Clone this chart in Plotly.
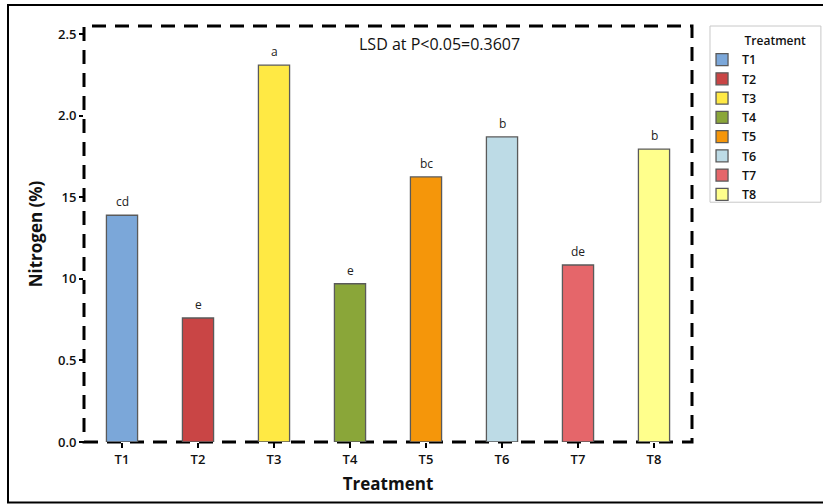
import plotly.graph_objects as go

# Nitrogen content per treatment with LSD letter groups
treatments = ["T1", "T2", "T3", "T4", "T5", "T6", "T7", "T8"]
nitrogen = [1.39, 0.76, 2.31, 0.97, 1.625, 1.87, 1.085, 1.795]
letters = ["cd", "e", "a", "e", "bc", "b", "de", "b"]
colors = ["#7BA7D9", "#C94545", "#FFE944", "#8AA639",
          "#F5960A", "#BDDBE6", "#E5666A", "#FFFF8C"]

ytick_vals = [0, 0.5, 1.0, 1.5, 2.0, 2.5]
ytick_text = ["0.0", "0.5", "10", "15", "2.0", "2.5"]

FONT = "Open Sans, DejaVu Sans, sans-serif"

fig = go.Figure()
for t, v, c in zip(treatments, nitrogen, colors):
    fig.add_trace(go.Bar(
        x=[t], y=[v], name=t, width=0.41,
        marker=dict(color=c, line=dict(color="#5a5a5a", width=1.3)),
    ))

# significance letters above each bar
for t, v, lab in zip(treatments, nitrogen, letters):
    fig.add_annotation(x=t, y=v, text=lab, showarrow=False,
                       yanchor="bottom", yshift=3,
                       font=dict(family=FONT, size=12, color="#222"))

fig.add_annotation(x=0.5855, y=0.988, xref="paper", yref="paper",
                   text="LSD at P<0.05=0.3607", showarrow=False,
                   xanchor="center", yanchor="top",
                   font=dict(family=FONT, size=16, color="#111"))

# dashed frame around the plotting area
fig.add_shape(type="rect", xref="paper", yref="paper",
              x0=0, x1=1, y0=0, y1=1, layer="below",
              line=dict(color="black", width=3, dash="14px,9px"))

# solid outer border of the figure
fig.add_shape(type="rect", xref="paper", yref="paper",
              x0=-0.125, x1=1.225, y0=-0.1456, y1=1.0505,
              line=dict(color="black", width=2))

# legend frame
fig.add_shape(type="rect", xref="paper", yref="paper",
              x0=1.0296, x1=1.212, y0=0.5764, y1=1.0,
              line=dict(color="#c8c8c8", width=1))

fig.update_layout(
    width=823, height=504,
    margin=dict(l=84, r=131, t=26, b=62),
    plot_bgcolor="white", paper_bgcolor="white",
    barmode="overlay",
    showlegend=True,
    font=dict(family=FONT, color="#111"),
    legend=dict(
        x=1.0165, y=0.992, xanchor="left", yanchor="top",
        title=dict(text="&nbsp;" * 13 + "Treatment",
                   font=dict(size=12, family=FONT, color="#111", weight=600)),
        font=dict(size=12.5, family=FONT, color="#111", weight=600),
        borderwidth=0, bgcolor="rgba(0,0,0,0)",
        tracegroupgap=0, itemwidth=30,
    ),
    xaxis=dict(
        range=[-0.5, 7.5], showgrid=False, showline=False, zeroline=False,
        ticks="outside", ticklen=5, tickwidth=2, tickcolor="black",
        tickfont=dict(size=13, family=FONT, color="#111", weight=600),
        title=dict(text="<b>Treatment</b>", font=dict(size=17, family=FONT),
                   standoff=11),
    ),
    yaxis=dict(
        range=[0, 2.55], showgrid=False, showline=False, zeroline=False,
        tickvals=ytick_vals, ticktext=ytick_text,
        ticks="outside", ticklen=4, tickwidth=2, tickcolor="black",
        tickfont=dict(size=13, family=FONT, color="#111", weight=600),
        title=dict(text="<b>Nitrogen (%)</b>", font=dict(size=17, family=FONT),
                   standoff=11),
    ),
)

fig.write_html("out.html")
